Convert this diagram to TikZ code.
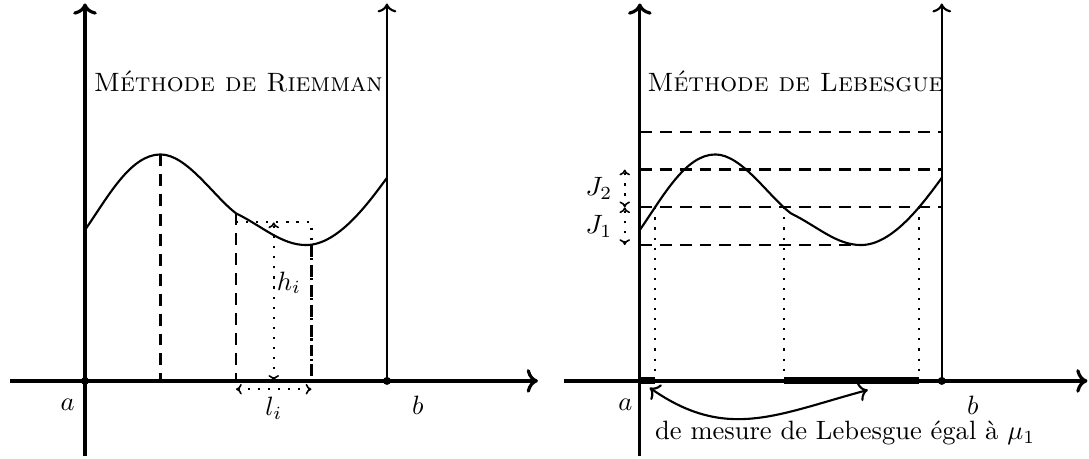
\documentclass[tikz,border=0pt]{standalone}
\usepackage{amsmath,amssymb}
\usetikzlibrary{arrows.meta,calc,intersections}
\tikzset{
  axis/.style={very thick, ->},
  bound/.style={thick, ->},
  graph/.style={thick},
  guide/.style={thick, dash pattern=on 4.5pt off 3pt},
  trace/.style={thick, dash pattern=on \pgflinewidth off 3pt},
  span/.style={trace, {To[length=2.2pt,width=4pt,line width=0.6pt]}-{To[length=2.2pt,width=4pt,line width=0.6pt]}},
  measure/.style={line width=2.6pt},
  endpoint/.style={circle, fill, inner sep=0pt, minimum size=3pt},
  heading/.style={font=\scshape}
}

\begin{document}
\begin{tikzpicture}[x=1cm,y=1cm]
  \useasboundingbox (-1.126,-1.033) rectangle (13.30,5.046);

  % -------------------------------------------------------------------
  % Riemann: vertical strips.
  \coordinate (a1) at (0,0);
  \coordinate (b1) at (4,0);
  \coordinate (xs1) at (-1,0);
  \coordinate (xe1) at (6,0);
  \coordinate (ys1) at (0,-1);
  \coordinate (ye1) at (0,5);
  \coordinate (be1) at (4,5);
  \draw[axis] (xs1) -- (xe1);
  \draw[axis] (ys1) -- (ye1);
  \draw[bound] (b1) -- (be1);
  \node[endpoint] (dotA1) at (a1) {};
  \node[endpoint] (dotB1) at (b1) {};
  \node (labA1) at (-0.23,-0.32) {$a$};
  \node (labB1) at (4.41,-0.32) {$b$};
  \node[heading] (titleR) at (2.03,3.97) {Méthode de Riemman};

  \draw[graph] (0,2) .. controls (0.3,2.43) and (0.6,3) .. (1,3) coordinate (top1)
    .. controls (1.35,3) and (1.7,2.45) .. (2,2.22) coordinate (k1)
    .. controls (2.35,2.05) and (2.6,1.8) .. (2.93,1.8) coordinate (min1)
    .. controls (3.35,1.8) and (3.75,2.35) .. (4,2.69);

  \draw[guide] (top1) -- (top1 |- a1);
  \draw[guide] (k1) -- (k1 |- a1);
  \draw[guide] (3,1.8) -- (3,0);
  \draw[trace] (2,2.1) -- (3,2.1) -- (3,0);
  \draw[span] (2.5,0) -- (2.5,2.1);
  \node[anchor=west, inner sep=1pt] (hi) at (2.5,1.3) {$h_i$};
  \draw[span] (2,-0.11) -- (3,-0.11);
  \node (li) at (2.5,-0.36) {$l_i$};

  % -------------------------------------------------------------------
  % Lebesgue: horizontal levels.
  \begin{scope}[xshift=7.35cm]
    \coordinate (a2) at (0,0);
    \coordinate (b2) at (4,0);
    \coordinate (xs2) at (-1,0);
    \coordinate (xe2) at (5.93,0);
    \coordinate (ys2) at (0,-1);
    \coordinate (ye2) at (0,5);
    \coordinate (be2) at (4,5);
    \draw[axis] (xs2) -- (xe2);
    \draw[axis] (ys2) -- (ye2);
    \draw[bound] (b2) -- (be2);
    \node[endpoint] (dotB2) at (b2) {};
    \node (labA2) at (-0.19,-0.32) {$a$};
    \node (labB2) at (4.41,-0.32) {$b$};
    \node[heading] (titleL) at (2.06,3.97) {Méthode de Lebesgue};

    \draw[graph, name path=lebgraph] (0,2) .. controls (0.3,2.43) and (0.6,3) .. (1,3)
      .. controls (1.35,3) and (1.7,2.45) .. (2,2.22)
      .. controls (2.35,2.05) and (2.6,1.8) .. (2.93,1.8) coordinate (min2)
      .. controls (3.35,1.8) and (3.75,2.35) .. (4,2.69);

    \draw[guide] (0,3.3) -- (4,3.3);
    \draw[guide] (0,2.8) -- (4,2.8);
    \draw[guide, name path=level] (0,2.3) -- (4,2.3);
    \draw[guide] (min2 -| a2) -- (min2);

    \path[name intersections={of=lebgraph and level, sort by=lebgraph,
      by={p1,p2,p3}}];
    \draw[trace] (p1) -- (p1 |- a2);
    \draw[trace] (p2) -- (p2 |- a2);
    \draw[trace] (p3) -- (p3 |- a2);
    \draw[measure] (a2) -- (p1 |- a2);
    \draw[measure] (p2 |- a2) -- (p3 |- a2);

    \draw[span] (-0.2,2.3) -- node[left=1pt] (J2) {$J_2$} (-0.2,2.8);
    \draw[span] (-0.2,1.8) -- node[left=1pt] (J1) {$J_1$} (-0.2,2.3);

    \coordinate (mu1) at (0.13,-0.09);
    \coordinate (mu2) at (3.02,-0.12);
    \draw[thick, <->] (mu1) to[out=-35,in=195,looseness=1.1] (mu2);
    \node (mulabel) at (2.72,-0.69) {de mesure de Lebesgue égal à $\mu_1$};
  \end{scope}
\end{tikzpicture}
\end{document}
